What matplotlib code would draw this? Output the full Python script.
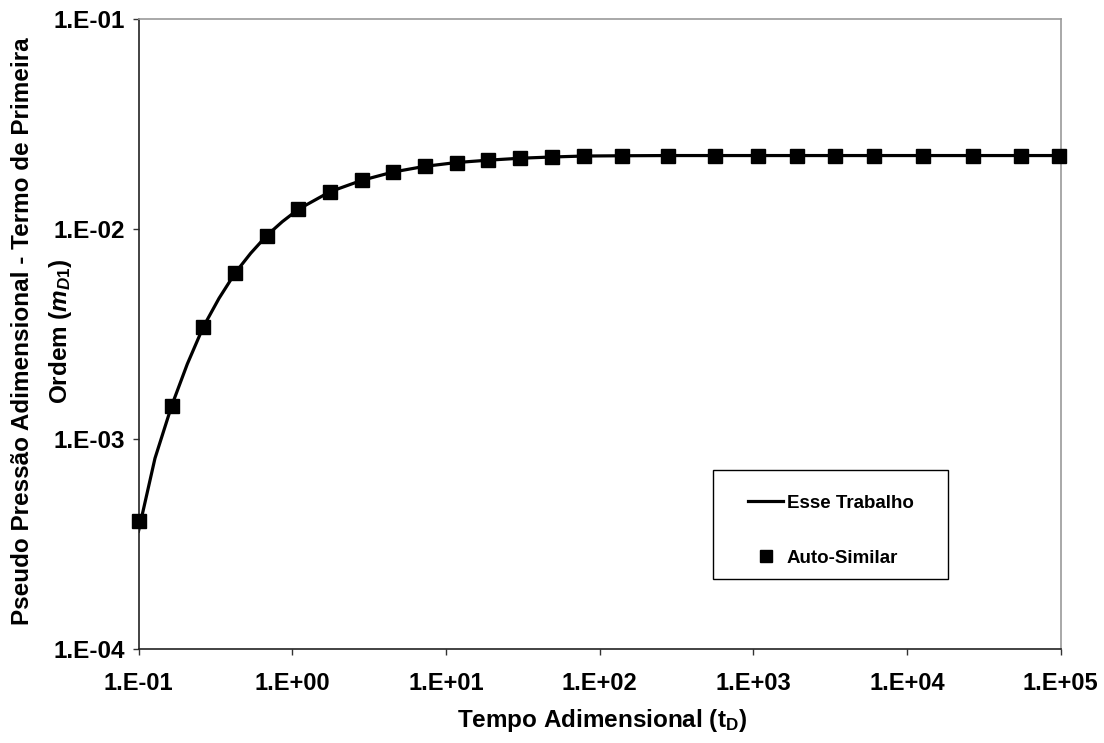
import matplotlib
matplotlib.use("Agg")
import matplotlib.pyplot as plt
from matplotlib.ticker import FixedLocator, NullLocator
from matplotlib.patches import Rectangle

plt.rcParams['font.family'] = ['Liberation Sans', 'DejaVu Sans']
plt.rcParams['mathtext.fontset'] = 'custom'
plt.rcParams['mathtext.rm'] = 'Liberation Sans:bold'
plt.rcParams['mathtext.it'] = 'Liberation Sans:bold:italic'
plt.rcParams['mathtext.bf'] = 'Liberation Sans:bold'

# Data
t_auto = [0.1, 0.1644, 0.264, 0.425, 0.682, 1.096, 1.762, 2.832, 4.546, 7.31,
          11.75, 18.88, 30.5, 49.2, 79.2, 140.6, 280, 563, 1069, 1916,
          3404, 6100, 12770, 27000, 54950, 97500]
m_auto = [4.09e-4, 1.445e-3, 3.43e-3, 6.19e-3, 9.33e-3, 0.01245, 0.0151, 0.0171,
          0.01875, 0.01995, 0.0208, 0.02134, 0.0218, 0.0221, 0.02233, 0.0224,
          0.02245, 0.02245, 0.02245, 0.02245, 0.02245, 0.02245, 0.02245,
          0.02245, 0.02245, 0.02245]

t_line = [0.1, 0.128, 0.1644, 0.2078, 0.264, 0.334, 0.425, 0.537, 0.682, 0.862,
          1.096, 1.762, 2.832, 4.546, 7.31, 11.75, 18.88, 30.5, 49.2, 79.2,
          140.6, 280, 563, 1069, 1916, 3404, 6100, 12770, 27000, 54950, 100000]
m_line = [3.65e-4, 8.12e-4, 1.445e-3, 2.284e-3, 3.43e-3, 4.69e-3, 6.19e-3, 7.69e-3,
          9.33e-3, 0.01087, 0.01245, 0.0151, 0.0171, 0.01875, 0.01995, 0.0208,
          0.02134, 0.0218, 0.0221, 0.02233, 0.0224, 0.02245, 0.02245, 0.02245,
          0.02245, 0.02245, 0.02245, 0.02245, 0.02245, 0.02245, 0.02245]

x_ticks = [1e-1, 1e0, 1e1, 1e2, 1e3, 1e4, 1e5]
x_ticklabels = ['1.E-01', '1.E+00', '1.E+01', '1.E+02', '1.E+03', '1.E+04', '1.E+05']
y_ticks = [1e-4, 1e-3, 1e-2, 1e-1]
y_ticklabels = ['1.E-04', '1.E-03', '1.E-02', '1.E-01']

W, H = 1104, 743
fig = plt.figure(figsize=(W / 100, H / 100), dpi=100)
L, R, T, B = 138.5, 1060.7, 19.3, 649.3
ax = fig.add_axes([L / W, 1 - B / H, (R - L) / W, (B - T) / H])


def ax_frac(px, py):
    return (px - L) / (R - L), (B - py) / (B - T)


ax.plot(t_line, m_line, color='black', lw=2.3, label='Esse Trabalho', zorder=2)
ax.plot(t_auto, m_auto, linestyle='none', marker='s', markersize=10,
        color='black', label='Auto-Similar', zorder=3, clip_on=False)

ax.set_xscale('log')
ax.set_yscale('log')
ax.set_xlim(1e-1, 1e5)
ax.set_ylim(1e-4, 1e-1)

ax.xaxis.set_major_locator(FixedLocator(x_ticks))
ax.xaxis.set_minor_locator(NullLocator())
ax.yaxis.set_major_locator(FixedLocator(y_ticks))
ax.yaxis.set_minor_locator(NullLocator())
ax.set_xticklabels(x_ticklabels, fontsize=17, fontweight='bold')
ax.set_yticklabels(y_ticklabels, fontsize=17.5, fontweight='bold')
ax.tick_params(axis='both', direction='out', length=4.5, width=1, color='#333333')
ax.tick_params(axis='x', pad=12)
ax.tick_params(axis='y', pad=5.5)

for s in ['left', 'bottom']:
    ax.spines[s].set_color('#222222')
    ax.spines[s].set_linewidth(1.2)
for s in ['top', 'right']:
    ax.spines[s].set_color('#9a9a9a')
    ax.spines[s].set_linewidth(1.2)

fig.text(602 / W, 1 - 720 / H, 'Tempo Adimensional (t$_\\mathregular{D}$)',
         ha='center', va='center', fontsize=17.5, fontweight='bold')
fig.text(22.5 / W, 1 - 331 / H, 'Pseudo Pressão Adimensional - Termo de Primeira',
         rotation=90, ha='center', va='center', fontsize=17.5, fontweight='bold')
fig.text(61 / W, 1 - 331 / H, 'Ordem ($m_{D1}$)',
         rotation=90, ha='center', va='center', fontsize=17.5, fontweight='bold')

# legend box
x0, y0 = ax_frac(712.7, 579)
x1, y1 = ax_frac(948, 470)
ax.add_patch(Rectangle((x0, y0), x1 - x0, y1 - y0, transform=ax.transAxes,
                       facecolor='white', edgecolor='black', lw=1.0, zorder=4,
                       clip_on=False))

leg = ax.legend(loc='upper left', bbox_to_anchor=ax_frac(748, 494.5),
                prop={'weight': 'bold', 'size': 13.5}, frameon=False,
                borderpad=0, labelspacing=2.04, handlelength=1.87, handletextpad=0.2,
                borderaxespad=0)
leg.set_zorder(5)
leg.legend_handles[1].set_markersize(8)

fig.savefig('out.png', dpi=100)
